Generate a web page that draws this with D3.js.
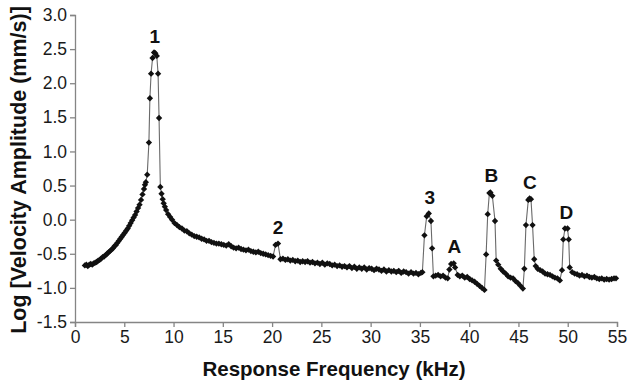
<!DOCTYPE html>
<html>
<head>
<meta charset="utf-8">
<script src="https://cdn.jsdelivr.net/npm/d3@7"></script>
<style>
  html, body { margin: 0; padding: 0; background: #fff; }
  svg { display: block; }
</style>
</head>
<body>
<div id="chart"></div>
<script>
// ---- data ----
const freq = [
  1.0,1.15,1.3,1.45,1.6,1.75,1.9,2.05,2.2,2.35,2.5,2.65,2.8,2.95,3.1,3.25,3.4,3.55,3.7,3.85,
  4.0,4.15,4.3,4.45,4.6,4.75,4.9,5.05,5.2,5.35,5.5,5.65,5.8,5.95,6.1,6.25,6.4,6.55,6.7,6.85,
  7.0,7.1,7.19,7.33,7.5,7.6,7.72,7.87,8.02,8.15,8.3,8.43,8.53,8.66,8.78,8.9,9.0,9.12,9.25,9.45,
  9.65,9.85,10.1,10.35,10.6,10.85,11.1,11.35,11.6,11.85,12.1,12.35,12.6,12.85,13.1,13.35,13.6,13.85,14.1,14.35,
  14.6,14.85,15.1,15.35,15.6,15.85,16.1,16.35,16.6,16.85,17.1,17.35,17.6,17.85,18.1,18.35,18.6,18.85,19.1,19.35,
  19.6,19.85,20.1,20.35,20.6,20.85,21.1,21.35,21.6,21.85,22.1,22.35,22.6,22.85,23.1,23.35,23.6,23.85,24.1,24.35,
  24.6,24.85,25.1,25.35,25.6,25.85,26.1,26.35,26.6,26.85,27.1,27.35,27.6,27.85,28.1,28.35,28.6,28.85,29.1,29.35,
  29.6,29.85,30.1,30.35,30.6,30.85,31.1,31.35,31.6,31.85,32.1,32.35,32.6,32.85,33.1,33.35,33.6,33.85,34.1,34.35,
  34.6,34.85,35.1,35.25,35.46,35.69,35.9,36.12,36.24,36.37,36.6,36.85,37.1,37.35,37.6,37.82,37.99,38.17,38.43,38.57,
  38.83,39.05,39.3,39.55,39.8,40.05,40.3,40.55,40.8,41.05,41.3,41.55,41.72,41.88,42.05,42.15,42.35,42.62,42.74,42.95,
  43.2,43.45,43.7,43.95,44.2,44.45,44.7,44.95,45.2,45.45,45.6,45.76,46.0,46.13,46.27,46.43,46.6,46.75,46.95,47.2,
  47.45,47.7,47.95,48.2,48.45,48.7,48.95,49.2,49.42,49.55,49.72,49.98,50.1,50.2,50.45,50.7,50.95,51.2,51.45,51.7,
  51.95,52.2,52.45,52.7,52.95,53.2,53.45,53.7,53.95,54.2,54.45,54.7,54.9
];
const logAmp = [
  -0.67,-0.66,-0.68,-0.66,-0.65,-0.66,-0.64,-0.63,-0.62,-0.60,-0.59,-0.57,-0.55,-0.54,-0.52,-0.50,-0.48,-0.46,-0.44,-0.42,
  -0.39,-0.37,-0.34,-0.31,-0.28,-0.25,-0.22,-0.19,-0.16,-0.13,-0.09,-0.05,-0.01,0.03,0.07,0.12,0.17,0.22,0.29,0.37,
  0.45,0.51,0.55,0.66,1.13,1.78,2.14,2.37,2.45,2.44,2.40,2.14,1.49,0.48,0.38,0.30,0.24,0.19,0.14,0.08,
  0.04,0.00,-0.05,-0.08,-0.11,-0.13,-0.16,-0.17,-0.20,-0.22,-0.24,-0.25,-0.26,-0.28,-0.29,-0.31,-0.31,-0.33,-0.34,-0.35,
  -0.35,-0.36,-0.37,-0.38,-0.36,-0.39,-0.41,-0.42,-0.41,-0.43,-0.44,-0.45,-0.44,-0.46,-0.47,-0.48,-0.47,-0.49,-0.50,-0.51,
  -0.52,-0.53,-0.54,-0.37,-0.35,-0.58,-0.57,-0.59,-0.58,-0.60,-0.59,-0.61,-0.60,-0.62,-0.61,-0.62,-0.61,-0.63,-0.62,-0.64,
  -0.63,-0.65,-0.63,-0.66,-0.64,-0.65,-0.67,-0.66,-0.68,-0.67,-0.69,-0.68,-0.70,-0.68,-0.71,-0.69,-0.72,-0.70,-0.72,-0.70,
  -0.73,-0.71,-0.72,-0.74,-0.72,-0.73,-0.75,-0.73,-0.76,-0.74,-0.76,-0.75,-0.77,-0.75,-0.78,-0.76,-0.77,-0.79,-0.77,-0.79,
  -0.78,-0.80,-0.78,-0.77,-0.23,0.05,0.09,-0.02,-0.42,-0.83,-0.82,-0.81,-0.83,-0.82,-0.85,-0.86,-0.73,-0.65,-0.64,-0.70,
  -0.81,-0.83,-0.82,-0.85,-0.84,-0.87,-0.89,-0.91,-0.94,-0.97,-1.00,-1.03,-0.51,0.08,0.39,0.40,0.35,-0.02,-0.60,-0.66,
  -0.72,-0.76,-0.79,-0.83,-0.85,-0.86,-0.90,-0.93,-0.97,-1.01,-0.72,-0.08,0.29,0.31,0.30,-0.08,-0.58,-0.68,-0.72,-0.74,
  -0.76,-0.79,-0.80,-0.81,-0.83,-0.85,-0.86,-0.89,-0.74,-0.29,-0.13,-0.13,-0.29,-0.70,-0.77,-0.79,-0.80,-0.82,-0.81,-0.83,
  -0.82,-0.84,-0.85,-0.84,-0.86,-0.87,-0.86,-0.88,-0.87,-0.88,-0.87,-0.86,-0.86
];
const xTicks = [0,5,10,15,20,25,30,35,40,45,50,55];
const yTicks = [-1.5,-1.0,-0.5,0.0,0.5,1.0,1.5,2.0,2.5,3.0];
const yTickLabels = ["-1.5","-1.0","-0.5","0.0","0.5","1.0","1.5","2.0","2.5","3.0"];
const peakNames = ["1","2","3","A","B","C","D"];
const peakFreqs = [8.1, 20.6, 36.0, 38.5, 42.25, 46.15, 49.85];
const peakTops = [2.45, -0.35, 0.09, -0.64, 0.40, 0.31, -0.13];
const xTitle = "Response Frequency (kHz)";
const yTitle = "Log [Velocity Amplitude (mm/s)]";

// ---- chart ----
const W = 629, H = 384;
const FONT = "'Liberation Sans', Arial, sans-serif";
const svg = d3.select("#chart").append("svg").attr("width", W).attr("height", H)
  .style("background", "#fff");

const x = d3.scaleLinear().domain([0, 55]).range([75, 617]);
const y = d3.scaleLinear().domain([-1.5, 3.0]).range([322, 15]);

const axisColor = "#858585";

const gx = svg.append("g").attr("transform", `translate(0,${y(-1.5)})`)
  .call(d3.axisBottom(x).tickValues(xTicks).tickFormat(d => String(d)).tickSize(5).tickPadding(4));
const gy = svg.append("g").attr("transform", `translate(${x(0)},0)`)
  .call(d3.axisLeft(y).tickValues(yTicks).tickFormat((d, i) => yTickLabels[i]).tickSize(5).tickPadding(3));

[gx, gy].forEach(g => {
  g.select(".domain").attr("stroke", axisColor).attr("stroke-width", 1.3);
  g.selectAll(".tick line").attr("stroke", axisColor).attr("stroke-width", 1.3);
  g.selectAll(".tick text").attr("fill", "#1a1a1a").style("font-family", FONT).style("font-size", "17.5px");
});

const pts = freq.map((f, i) => ({ f: f, v: logAmp[i] }));

svg.append("path").datum(pts)
  .attr("fill", "none").attr("stroke", "#6a6a6a").attr("stroke-width", 1.1)
  .attr("d", d3.line().x(d => x(d.f)).y(d => y(d.v)));

const marker = d3.symbol().type(d3.symbolSquare).size(20);
svg.append("g").selectAll("path").data(pts).join("path")
  .attr("d", marker)
  .attr("transform", d => `translate(${x(d.f)},${y(d.v)}) rotate(45)`)
  .attr("fill", "#111");

svg.append("g").selectAll("text").data(peakNames).join("text")
  .attr("x", (d, i) => x(peakFreqs[i]))
  .attr("y", (d, i) => y(peakTops[i]) - 10)
  .attr("text-anchor", "middle")
  .style("font-family", FONT).style("font-weight", "bold").style("font-size", "19px")
  .attr("fill", "#111")
  .text(d => d);

svg.append("text")
  .attr("x", 334).attr("y", 376)
  .attr("text-anchor", "middle")
  .style("font-family", FONT).style("font-weight", "bold").style("font-size", "20.5px")
  .attr("fill", "#111")
  .text(xTitle);

svg.append("text")
  .attr("transform", `translate(26,170) rotate(-90)`)
  .attr("text-anchor", "middle")
  .style("font-family", FONT).style("font-weight", "bold").style("font-size", "21.5px")
  .attr("fill", "#111")
  .text(yTitle);
</script>
</body>
</html>
